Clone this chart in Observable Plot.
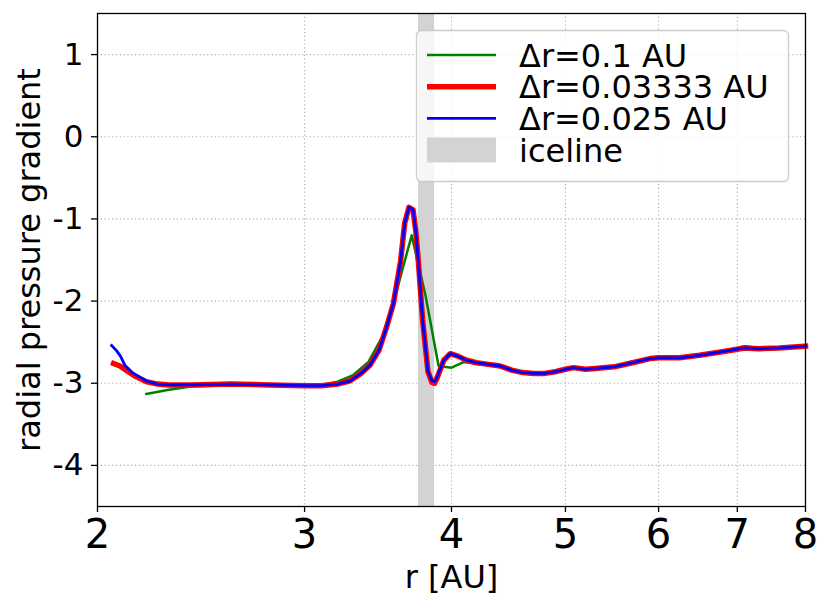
<!DOCTYPE html>
<html>
<head>
<meta charset="utf-8">
<script src="https://cdn.jsdelivr.net/npm/d3@7"></script>
<script src="https://cdn.jsdelivr.net/npm/@observablehq/plot@0.6"></script>
<style>
  html, body { margin: 0; padding: 0; background: #fff; }
  #chart { position: relative; width: 831px; height: 609px; }
</style>
</head>
<body>
<div id="chart"></div>
<script>
// ---- data ----
const greenR = [2.2, 2.3, 2.4, 2.5, 2.7, 3.0, 3.1, 3.2, 3.3, 3.4, 3.5, 3.6, 3.7, 3.8, 3.9, 4.0, 4.1, 4.2, 4.3, 4.4, 4.5, 4.6, 4.7, 4.8, 4.9, 5.0, 5.1, 5.2, 5.3, 5.5, 5.7, 5.9, 6.0, 6.3, 6.6, 6.9, 7.1, 7.2, 7.4, 7.7, 8.0];
const greenP = [-3.13, -3.08, -3.04, -3.03, -3.02, -3.03, -3.02, -2.98, -2.90, -2.74, -2.41, -1.83, -1.20, -1.92, -2.79, -2.81, -2.74, -2.76, -2.78, -2.80, -2.85, -2.88, -2.89, -2.89, -2.87, -2.84, -2.81, -2.83, -2.83, -2.80, -2.75, -2.70, -2.69, -2.68, -2.64, -2.59, -2.55, -2.56, -2.57, -2.56, -2.55];

const redR = [2.064, 2.09, 2.12, 2.15, 2.2, 2.25, 2.3, 2.4, 2.6, 2.8, 3.0, 3.1, 3.2, 3.28, 3.35, 3.41, 3.47, 3.52, 3.57, 3.62, 3.65, 3.68, 3.71, 3.73, 3.75, 3.78, 3.82, 3.85, 3.87, 3.89, 3.94, 3.99, 4.05, 4.12, 4.2, 4.3, 4.4, 4.5, 4.6, 4.7, 4.8, 4.9, 5.0, 5.08, 5.2, 5.3, 5.5, 5.7, 5.9, 6.0, 6.25, 6.5, 6.84, 7.1, 7.3, 7.6, 8.0];
const redP = [-2.76, -2.79, -2.85, -2.91, -2.98, -3.01, -3.02, -3.02, -3.01, -3.02, -3.03, -3.03, -3.01, -2.97, -2.88, -2.78, -2.60, -2.33, -2.03, -1.52, -1.05, -0.86, -0.89, -1.15, -1.55, -2.23, -2.86, -2.99, -3.00, -2.93, -2.72, -2.64, -2.67, -2.72, -2.75, -2.77, -2.79, -2.84, -2.87, -2.88, -2.88, -2.86, -2.83, -2.81, -2.83, -2.82, -2.80, -2.75, -2.70, -2.69, -2.69, -2.66, -2.61, -2.57, -2.58, -2.57, -2.55];

const blueR = [2.056, 2.075, 2.092, 2.11, 2.146, 2.2, 2.25, 2.3, 2.4, 2.6, 2.8, 3.0, 3.1, 3.2, 3.28, 3.35, 3.41, 3.47, 3.52, 3.57, 3.62, 3.65, 3.68, 3.71, 3.73, 3.75, 3.78, 3.82, 3.85, 3.87, 3.89, 3.94, 3.99, 4.05, 4.12, 4.2, 4.3, 4.4, 4.5, 4.6, 4.7, 4.8, 4.9, 5.0, 5.08, 5.2, 5.3, 5.5, 5.7, 5.9, 6.0, 6.25, 6.5, 6.84, 7.1, 7.3, 7.6, 8.0];
const blueP = [-2.54, -2.60, -2.67, -2.78, -2.88, -2.97, -3.01, -3.02, -3.02, -3.01, -3.02, -3.03, -3.03, -3.01, -2.97, -2.88, -2.78, -2.60, -2.33, -2.03, -1.52, -1.05, -0.86, -0.89, -1.15, -1.55, -2.23, -2.86, -2.97, -2.98, -2.92, -2.72, -2.64, -2.67, -2.72, -2.75, -2.77, -2.79, -2.84, -2.87, -2.88, -2.88, -2.86, -2.83, -2.81, -2.83, -2.82, -2.80, -2.75, -2.70, -2.69, -2.69, -2.66, -2.61, -2.57, -2.58, -2.57, -2.55];

const icelineR = [3.75, 3.87];

const xTicks = [2, 3, 4, 5, 6, 7, 8];
const yTicks = [-4, -3, -2, -1, 0, 1];
const xDomain = [2, 8];
const yDomain = [-4.5, 1.5];

const seriesNames = ["Δr=0.1 AU", "Δr=0.03333 AU", "Δr=0.025 AU", "iceline"];
const seriesColors = ["#008000", "#ff0000", "#0000ff", "#d3d3d3"];
const seriesWidths = [2.5, 5.5, 2.8];

const xLabel = "r [AU]";
const yLabel = "radial pressure gradient";

// ---- build tables ----
const green = greenR.map((r, i) => ({r, p: greenP[i]}));
const red = redR.map((r, i) => ({r, p: redP[i]}));
const blue = blueR.map((r, i) => ({r, p: blueP[i]}));
const ice = [{x1: icelineR[0], x2: icelineR[1]}];

const FONT = "DejaVu Sans, Liberation Sans, sans-serif";
const FS = 32;

const chart = Plot.plot({
  width: 831,
  height: 609,
  marginLeft: 97,
  marginRight: 26,
  marginTop: 13,
  marginBottom: 103,
  style: {fontFamily: FONT, fontSize: FS + "px", background: "#fff", color: "#000", overflow: "visible"},
  x: {type: "log", domain: xDomain},
  y: {domain: yDomain},
  marks: [
    Plot.gridX(xTicks, {stroke: "#b0b0b0", strokeOpacity: 1, strokeWidth: 1.1, strokeDasharray: "1.2,2.6"}),
    Plot.gridY(yTicks, {stroke: "#b0b0b0", strokeOpacity: 1, strokeWidth: 1.1, strokeDasharray: "1.2,2.6"}),
    Plot.rect(ice, {x1: "x1", x2: "x2", fill: seriesColors[3]}),
    Plot.line(green, {x: "r", y: "p", stroke: seriesColors[0], strokeWidth: seriesWidths[0], strokeLinejoin: "round"}),
    Plot.line(red, {x: "r", y: "p", stroke: seriesColors[1], strokeWidth: seriesWidths[1], strokeLinejoin: "round", strokeLinecap: "square"}),
    Plot.line(blue, {x: "r", y: "p", stroke: seriesColors[2], strokeWidth: seriesWidths[2], strokeLinejoin: "round", strokeLinecap: "square"}),
    Plot.frame({stroke: "#000", strokeWidth: 1.3}),
    Plot.axisX(xTicks, {tickFormat: d => String(d), tickSize: 6, tickPadding: 7, fontSize: 40, strokeWidth: 1.3, label: null}),
    Plot.axisY(yTicks, {tickFormat: d => String(d), tickSize: 6, tickPadding: 8, fontSize: 31, strokeWidth: 1.3, label: null}),
    Plot.text([xLabel], {frameAnchor: "bottom", dy: 71, fontSize: FS, textAnchor: "middle", lineAnchor: "middle", text: d => d}),
    Plot.text([yLabel], {frameAnchor: "left", dx: -68, rotate: -90, fontSize: FS, textAnchor: "middle", lineAnchor: "middle", text: d => d})
  ]
});

document.getElementById("chart").appendChild(chart);

// ---- legend ----
const svg = d3.select(chart);
const lg = svg.append("g").attr("font-family", FONT).attr("font-size", FS).attr("text-anchor", "start");
lg.append("rect")
  .attr("x", 416.5).attr("y", 30.5).attr("width", 372).attr("height", 151)
  .attr("rx", 5).attr("ry", 5)
  .attr("fill", "#fff").attr("fill-opacity", 0.8)
  .attr("stroke", "#cccccc").attr("stroke-width", 1.3);
const rowY = [55, 86.7, 118.3, 150];
seriesNames.forEach((name, i) => {
  if (i < 3) {
    lg.append("line")
      .attr("x1", 427).attr("x2", 496).attr("y1", rowY[i]).attr("y2", rowY[i])
      .attr("stroke", seriesColors[i]).attr("stroke-width", seriesWidths[i]);
  } else {
    lg.append("rect")
      .attr("x", 427).attr("y", rowY[i] - 12.5).attr("width", 69).attr("height", 25)
      .attr("fill", seriesColors[i]);
  }
  lg.append("text")
    .attr("x", 519).attr("y", rowY[i]).attr("dy", "0.36em")
    .attr("text-anchor", "start")
    .attr("fill", "#000")
    .text(name);
});
</script>
</body>
</html>
